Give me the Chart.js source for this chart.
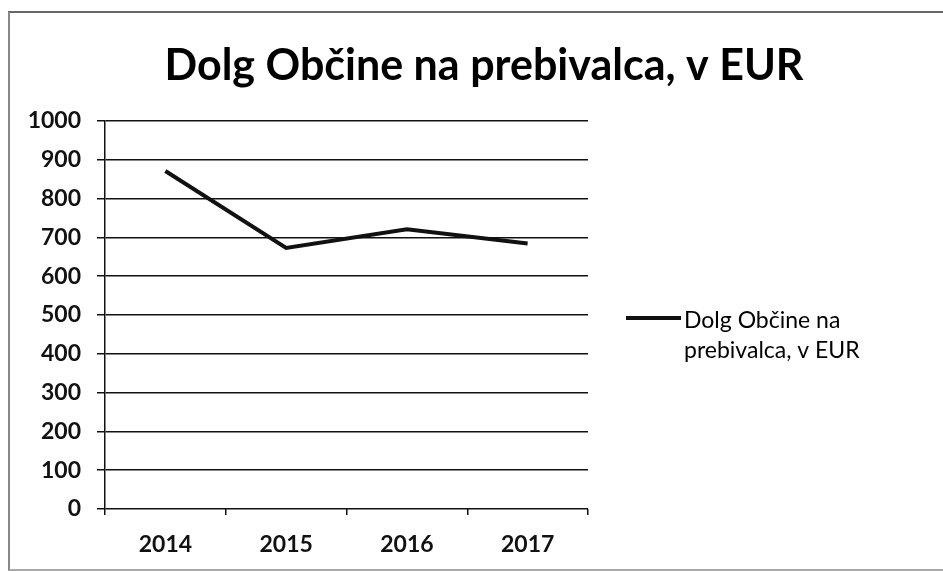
<!DOCTYPE html>
<html>
<head>
<meta charset="utf-8">
<script src="https://cdn.jsdelivr.net/npm/chart.js@4/dist/chart.umd.min.js"></script>
<style>
  html, body { margin: 0; padding: 0; background: #fff; }
  #wrap { position: relative; width: 943px; height: 571px; overflow: hidden; }
  #frame { position: absolute; left: 8px; top: 11px; width: 1000px; height: 556px;
           border-left: 2px solid #888; border-top: 2px solid #666; border-bottom: 2px solid #aaa; }
  canvas { position: absolute; left: 0; top: 0; }
</style>
</head>
<body>
<div id="wrap">
  <div id="frame"></div>
  <canvas id="c" width="943" height="571"></canvas>
</div>
<script>
const titleText = 'Dolg Občine na prebivalca, v EUR';
const years = ['2014', '2015', '2016', '2017'];
const debtPerCapita = [871, 673, 721, 684];
const legendLines = ['Dolg Občine na', 'prebivalca, v EUR'];
const yTicks = [0, 100, 200, 300, 400, 500, 600, 700, 800, 900, 1000];

const FONT = 'Lato, "Open Sans", sans-serif';

const decorPlugin = {
  id: 'decor',
  afterDraw(chart) {
    const ctx = chart.ctx;
    ctx.save();
    // title
    ctx.fillStyle = '#000';
    ctx.font = 'bold 43px ' + FONT;
    ctx.textAlign = 'center';
    ctx.textBaseline = 'alphabetic';
    ctx.fillText(titleText, 484, 80);
    // legend
    const ds = chart.data.datasets[0];
    const ly = 318;
    ctx.strokeStyle = ds.borderColor;
    ctx.lineWidth = ds.borderWidth;
    ctx.beginPath();
    ctx.moveTo(626, ly);
    ctx.lineTo(681, ly);
    ctx.stroke();
    ctx.font = '23px ' + FONT;
    ctx.textAlign = 'left';
    ctx.fillText(legendLines[0], 684, ly + 10);
    ctx.fillText(legendLines[1], 684, ly + 40);
    ctx.restore();
  }
};

new Chart(document.getElementById('c'), {
  type: 'line',
  data: {
    labels: years,
    datasets: [{
      label: legendLines.join(' '),
      data: debtPerCapita,
      borderColor: '#111',
      borderWidth: 4,
      pointRadius: 0,
      tension: 0,
      fill: false
    }]
  },
  options: {
    responsive: false,
    animation: false,
    layout: { padding: { top: 121, right: 355, left: 0, bottom: 0 } },
    plugins: { legend: { display: false }, title: { display: false }, tooltip: { enabled: false } },
    scales: {
      x: {
        offset: true,
        grid: { offset: true, drawOnChartArea: false, color: '#111', lineWidth: 1.5, tickLength: 6 },
        border: { display: false },
        ticks: { color: '#111', font: { family: FONT, size: 23, weight: 'bold' }, padding: 16 },
        afterFit(scale) { scale.height = 62; }
      },
      y: {
        min: 0, max: 1000,
        afterBuildTicks(scale) { scale.ticks = yTicks.map(v => ({ value: v })); },
        grid: { color: '#111', lineWidth: 1.5, tickLength: 8 },
        border: { display: true, color: '#111', width: 1.5 },
        ticks: { color: '#111', font: { family: FONT, size: 23, weight: 'bold' }, padding: 16,
                 callback: (v) => String(v) },
        afterFit(scale) { scale.width = 105; }
      }
    }
  },
  plugins: [decorPlugin]
});
</script>
</body>
</html>
